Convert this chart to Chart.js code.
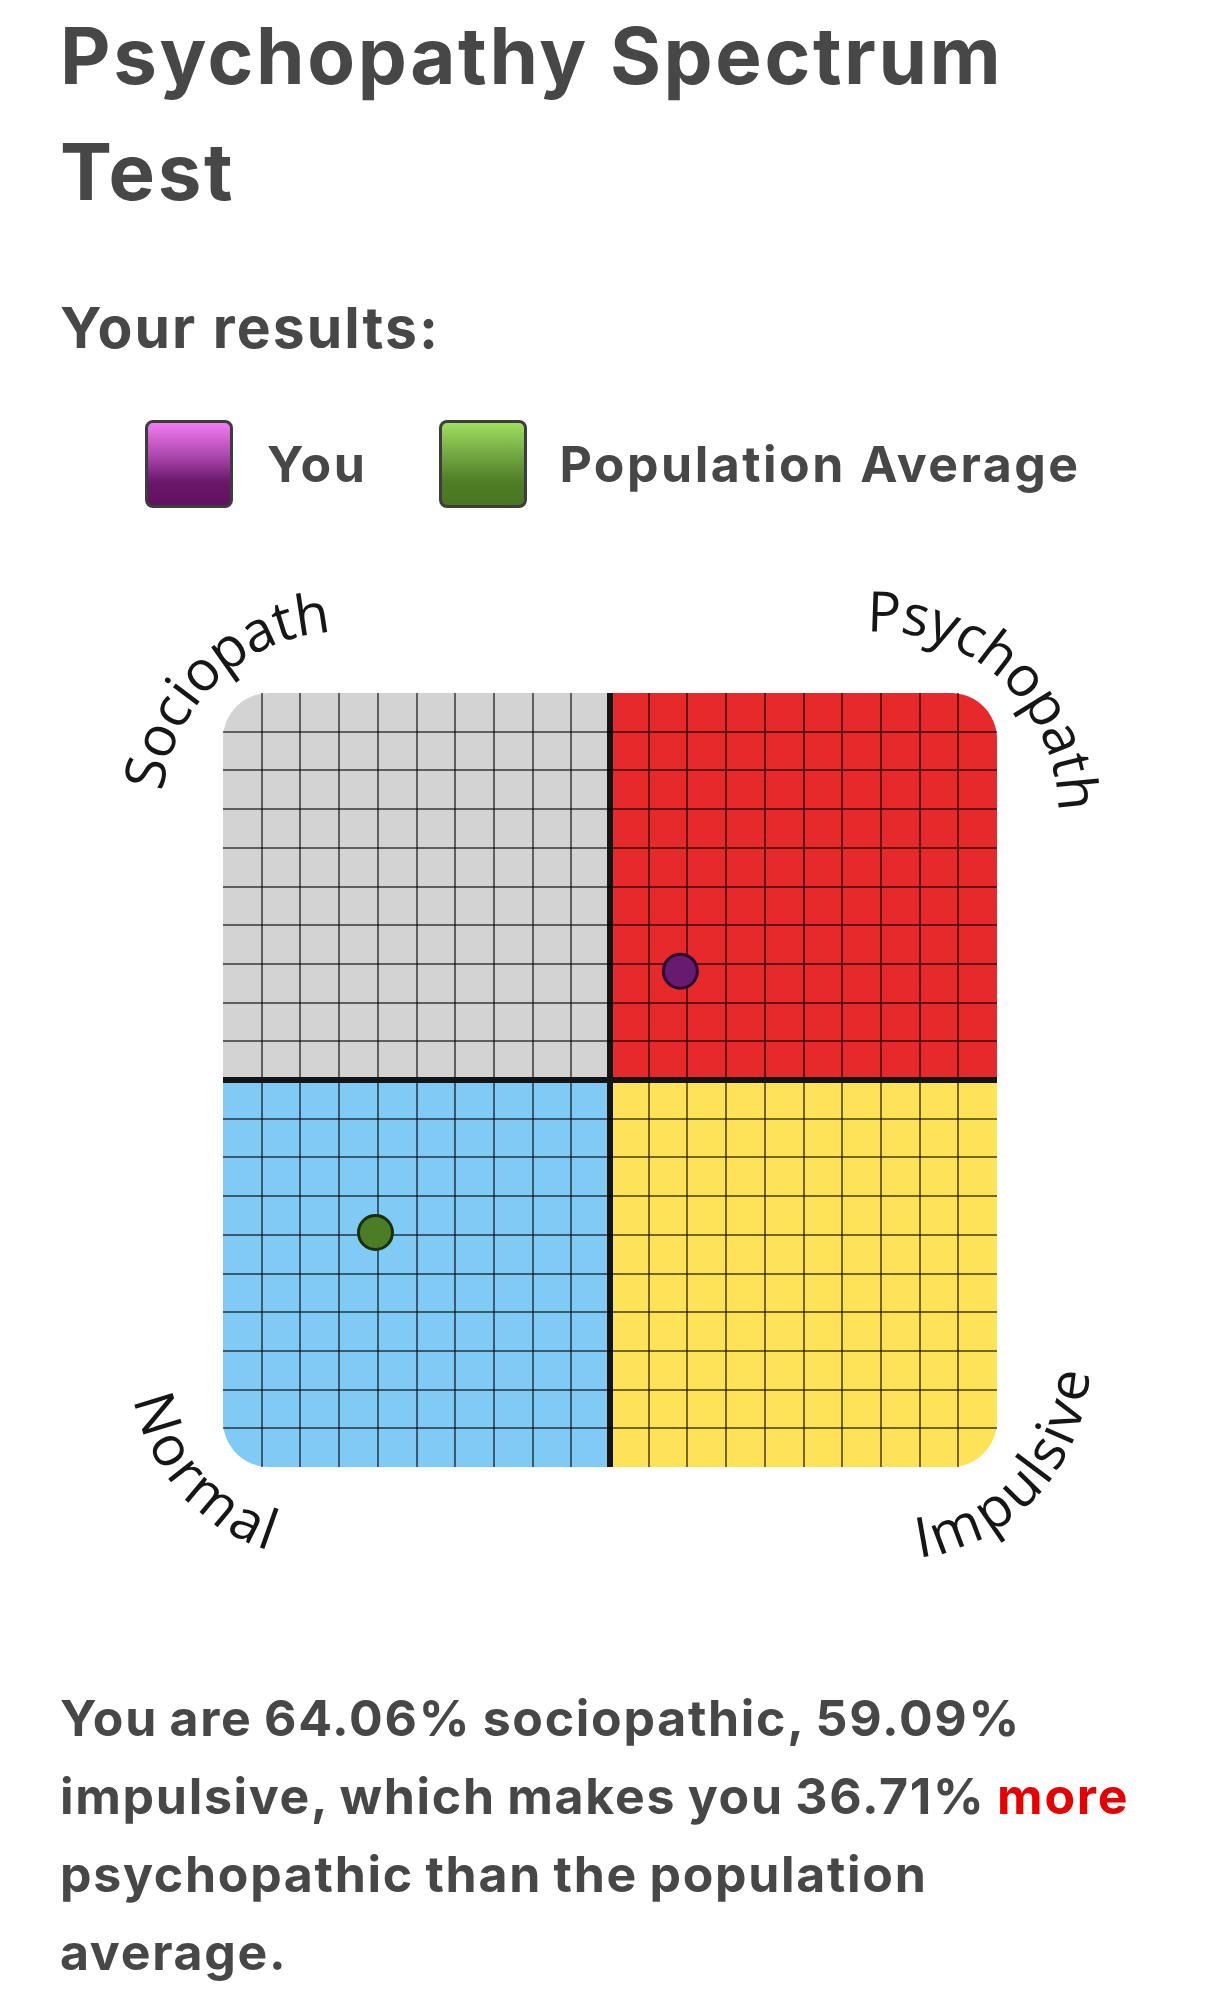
<!DOCTYPE html>
<html>
<head>
<meta charset="utf-8">
<title>Psychopathy Spectrum Test</title>
<script src="https://cdn.jsdelivr.net/npm/chart.js@4.4.1/dist/chart.umd.min.js"></script>
<style>
  html, body { margin: 0; padding: 0; background: #fff; }
  body { width: 1220px; height: 2010px; position: relative; overflow: hidden;
         font-family: Inter, "Noto Sans", sans-serif; font-weight: 700; color: #474747; }
  .title { position: absolute; left: 60px; top: -2px; font-size: 78px; line-height: 116px;
           letter-spacing: 2.6px; margin: 0; font-weight: 700; }
  .subtitle { position: absolute; left: 60px; top: 299px; font-size: 57px; line-height: 57px;
              letter-spacing: 2.05px; margin: 0; font-weight: 700; }
  #legend { position: absolute; left: 145px; top: 420px; height: 88px; display: flex; align-items: center; }
  #legend .item { display: flex; align-items: center; }
  #legend .swatch { width: 82px; height: 82px; border: 3px solid #3d3d3d; border-radius: 8px; }
  #legend .label { font-size: 50px; line-height: 88px; letter-spacing: 2.5px; margin-left: 34px; white-space: nowrap; }
  #legend .item + .item { margin-left: 72px; }
  #legend .item + .item .label { margin-left: 32px; }
  .sw-you { background: linear-gradient(to bottom, #f27cf2 0%, #b04ab0 38%, #6a176c 72%, #62105f 100%); }
  .sw-avg { background: linear-gradient(to bottom, #9de05f 0%, #74a842 38%, #4e7d26 72%, #497622 100%); }
  #chart-wrap { position: absolute; left: 0; top: 560px; width: 1220px; height: 1080px; }
  .summary { position: absolute; left: 60px; top: 1679px; font-size: 50px; line-height: 78px;
             letter-spacing: 1.7px; word-spacing: -2px; margin: 0; white-space: nowrap; }
  .summary .more { color: #e60000; }
</style>
</head>
<body>
<h1 class="title">Psychopathy Spectrum<br>Test</h1>
<h2 class="subtitle">Your results:</h2>
<div id="legend"></div>
<div id="chart-wrap"><canvas id="spectrumChart"></canvas></div>
<p class="summary">You are 64.06% sociopathic, 59.09%<br>impulsive, which makes you 36.71% <span class="more">more</span><br>psychopathic than the population<br>average.</p>

<script>
// Data (0-100 on both axes)
const seriesNames = ['You', 'Population Average'];
const impulsiveScores = [59.09, 19.7];     // x axis
const sociopathicScores = [64.06, 30.3];   // y axis
const cornerLabels = ['Sociopath', 'Psychopath', 'Normal', 'Impulsive'];
const axisMin = 0;
const axisMax = 100;
const gridStep = 5;

const pointFill = ['#661a70', '#4a7d25'];
const pointEdge = ['#2b0a2e', '#18300c'];
const swatchClass = ['sw-you', 'sw-avg'];

// HTML legend
const legendEl = document.getElementById('legend');
seriesNames.forEach((name, i) => {
    const item = document.createElement('div');
    item.className = 'item';
    item.innerHTML = `<div class="swatch ${swatchClass[i]}"></div><div class="label">${name}</div>`;
    legendEl.appendChild(item);
});

// Quadrant background with rounded outer corners
const quadrantPlugin = {
    id: 'quadrants',
    beforeDraw(chart) {
        const { ctx, scales: { x, y } } = chart;
        const x0 = x.getPixelForValue(axisMin), xm = x.getPixelForValue(50), x1 = x.getPixelForValue(axisMax);
        const y0 = y.getPixelForValue(axisMax), ym = y.getPixelForValue(50), y1 = y.getPixelForValue(axisMin);
        const r = 46;
        const quads = [
            [x0, y0, xm - x0, ym - y0, [r, 0, 0, 0], '#d3d3d3'],
            [xm, y0, x1 - xm, ym - y0, [0, r, 0, 0], '#e62a2b'],
            [x0, ym, xm - x0, y1 - ym, [0, 0, 0, r], '#80cbf5'],
            [xm, ym, x1 - xm, y1 - ym, [0, 0, r, 0], '#fee257']
        ];
        ctx.save();
        quads.forEach(q => {
            ctx.beginPath();
            ctx.roundRect(q[0], q[1], q[2], q[3], q[4]);
            ctx.fillStyle = q[5];
            ctx.fill();
        });
        ctx.restore();
    }
};

// Curved corner captions, each on its own small circle near a corner
function drawArcText(ctx, text, cx, cy, r, centerDeg, outward, size, spacing) {
    ctx.font = `500 ${size}px "Open Sans"`;
    const chars = [...text];
    const widths = chars.map(ch => ctx.measureText(ch).width);
    const total = widths.reduce((a, b) => a + b, 0) + spacing * (chars.length - 1);
    const dir = outward ? 1 : -1;
    let a = centerDeg * Math.PI / 180 - dir * (total / 2) / r;
    chars.forEach((ch, i) => {
        const w = widths[i];
        a += dir * (w / 2) / r;
        ctx.save();
        ctx.translate(cx + r * Math.cos(a), cy + r * Math.sin(a));
        ctx.rotate(outward ? a + Math.PI / 2 : a - Math.PI / 2);
        ctx.fillText(ch, 0, size * 0.33);
        ctx.restore();
        a += dir * (w / 2 + spacing) / r;
    });
}

const cornerLabelPlugin = {
    id: 'cornerLabels',
    afterDraw(chart) {
        const { ctx, scales: { x, y } } = chart;
        const cx = x.getPixelForValue(50), cy = y.getPixelForValue(50);
        const side = x.getPixelForValue(axisMax) - x.getPixelForValue(axisMin);
        // sx, sy: corner direction; off: circle centre offset; rad: circle radius (fractions of side)
        const placement = [
            { sx: -1, sy: -1, off: 0.346, rad: 0.257, deg: -133.4, outward: true },
            { sx: 1, sy: -1, off: 0.346, rad: 0.257, deg: -46.8, outward: true },
            { sx: -1, sy: 1, off: 0.364, rad: 0.232, deg: 138.5, outward: false },
            { sx: 1, sy: 1, off: 0.364, rad: 0.232, deg: 42.5, outward: false }
        ];
        ctx.save();
        ctx.fillStyle = '#161616';
        ctx.textAlign = 'center';
        ctx.textBaseline = 'alphabetic';
        cornerLabels.forEach((label, i) => {
            const p = placement[i];
            const ox = cx + p.sx * p.off * side;
            const oy = cy + p.sy * p.off * side;
            drawArcText(ctx, label, ox, oy, p.rad * side, p.deg, p.outward, 56, p.outward ? 2 : 0);
        });
        ctx.restore();
    }
};

function gridColor(c) {
    const v = c.tick.value;
    if (v === 50) return '#141414';
    if (v === axisMin || v === axisMax) return 'rgba(0,0,0,0)';
    return 'rgba(0,0,0,0.55)';
}

const axisOptions = {
    type: 'linear',
    min: axisMin,
    max: axisMax,
    ticks: { stepSize: gridStep, display: false },
    grid: {
        color: gridColor,
        lineWidth: c => (c.tick.value === 50 ? 6 : 2),
        drawTicks: false
    },
    border: { display: false }
};

const ctx = document.getElementById('spectrumChart').getContext('2d');
new Chart(ctx, {
    type: 'scatter',
    data: {
        datasets: seriesNames.map((name, i) => ({
            label: name,
            data: [{ x: impulsiveScores[i], y: sociopathicScores[i] }],
            backgroundColor: pointFill[i],
            borderColor: pointEdge[i],
            borderWidth: 3,
            pointRadius: 17,
            pointHoverRadius: 17
        }))
    },
    options: {
        responsive: true,
        maintainAspectRatio: false,
        animation: false,
        devicePixelRatio: 1,
        layout: { padding: { left: 223, right: 223, top: 133, bottom: 173 } },
        plugins: { legend: { display: false }, tooltip: { enabled: false } },
        scales: { x: axisOptions, y: axisOptions }
    },
    plugins: [quadrantPlugin, cornerLabelPlugin]
});
</script>
</body>
</html>
